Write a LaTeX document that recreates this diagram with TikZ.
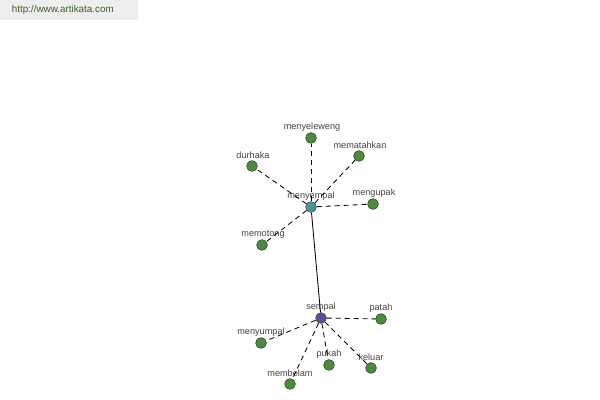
\documentclass[tikz,border=0pt]{standalone}
\usepackage{fontspec}
\setmainfont{Liberation Sans}
\usepackage{xcolor}
\usetikzlibrary{positioning}
\definecolor{leafgreen}{HTML}{4E8A3E}
\definecolor{leafline}{HTML}{2C4A22}
\definecolor{hubteal}{HTML}{4A9494}
\definecolor{hubblue}{HTML}{52529E}
\definecolor{labelgray}{HTML}{444444}
\definecolor{urlgreen}{HTML}{3F5E22}
\definecolor{urlback}{HTML}{EEEEEE}

\begin{document}
\begin{tikzpicture}[x=0.025cm, y=-0.025cm,
    word/.style={circle, draw=leafline, fill=leafgreen, inner sep=0pt, minimum size=0.27cm},
    hub/.style={word, draw=black!70},
    wordlabel/.style={font=\fontsize{6.5}{7}\selectfont, text=labelgray, inner sep=0pt},
    link/.style={line width=0.6pt, dash pattern=on 3.6pt off 2.8pt}]
    % bidang gambar
    \useasboundingbox (0, 0) rectangle (600, 400);
    \fill[white] (0, 0) rectangle (600, 400);

    % kepala
    \fill[urlback] (0, 0) rectangle (138, 20);
    \node[font=\fontsize{7}{8}\selectfont, text=urlgreen, anchor=west] (url) at (7, 10) {http://www.artikata.com};

    % simpul utama
    \node[hub, fill=hubteal] (menyempal) at (311, 207) {};
    \node[wordlabel] at (311, 196.5) {menyempal};
    \node[hub, fill=hubblue] (sempal) at (321, 318) {};
    \node[wordlabel] at (321, 307.5) {sempal};

    % kata sekitar menyempal
    \foreach \n/\x/\y in {menyeleweng/311/138, mematahkan/359/156, durhaka/252/166,
                          mengupak/373/204, memotong/262/245} {
        \node[word] (\n) at (\x, \y) {};
        \node[wordlabel] at (\x+1, \y-10.5) {\n};
        \draw[link] (menyempal) -- (\n);
    }

    % kata sekitar sempal
    \foreach \n/\x/\y in {patah/381/319, menyumpal/261/343, pukah/329/365,
                          keluar/371/368, membelam/290/384} {
        \node[word] (\n) at (\x, \y) {};
        \node[wordlabel] at (\x, \y-10.5) {\n};
        \draw[link] (sempal) -- (\n);
    }

    % hubungan utama
    \draw[line width=0.6pt] (menyempal) -- (sempal);
\end{tikzpicture}
\end{document}
